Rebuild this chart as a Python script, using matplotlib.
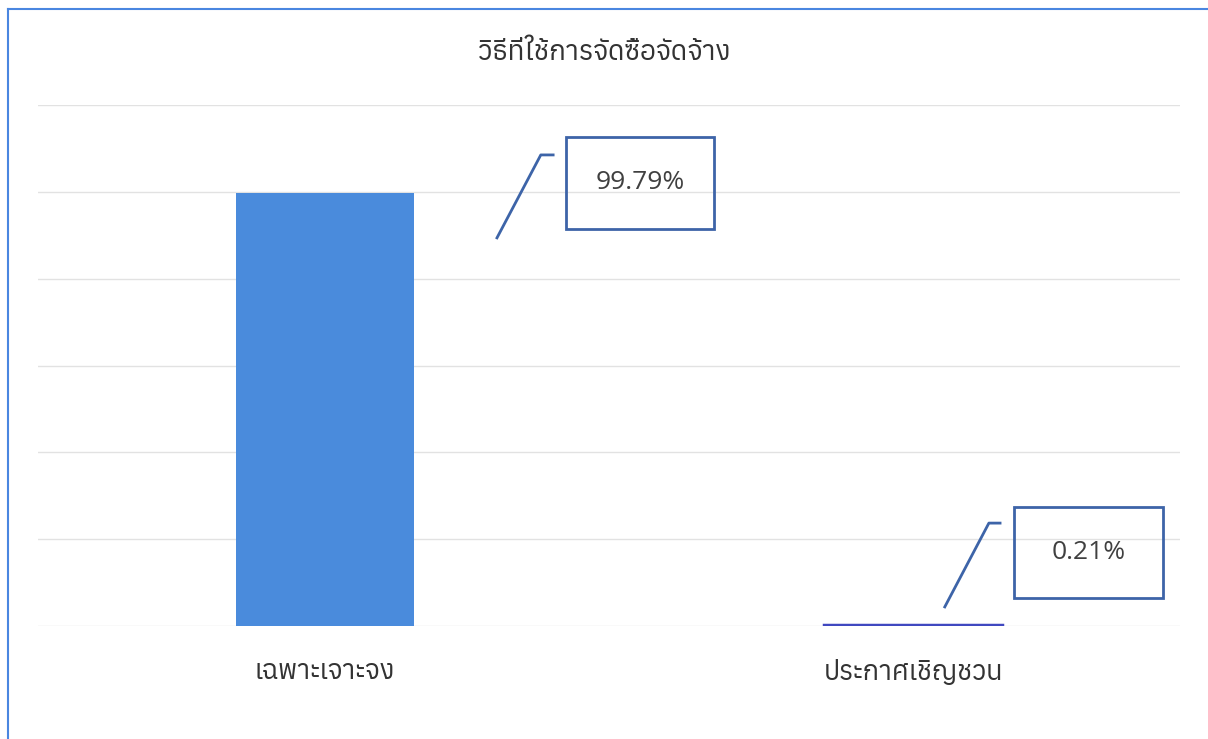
import matplotlib
matplotlib.use("Agg")
import matplotlib.pyplot as plt
import matplotlib.font_manager as fm
from matplotlib.ft2font import FT2Font
from matplotlib.patches import Rectangle
from matplotlib.lines import Line2D

# ---- data ----
title = "วิธีที่ใช้การจัดซื้อจัดจ้าง"
categories = ["เฉพาะเจาะจง", "ประกาศเชิญชวน"]
values = [99.79, 0.21]
value_labels = ["99.79%", "0.21%"]

# ---- find a font with Thai glyphs ----
thai_fonts = []
for f in fm.fontManager.ttflist:
    try:
        if 0x0E27 in FT2Font(f.fname).get_charmap():
            thai_fonts.append(f.name)
    except Exception:
        pass
thai_fonts = sorted(set(thai_fonts))
fam = thai_fonts + ["DejaVu Sans"] if thai_fonts else ["DejaVu Sans"]

fig = plt.figure(figsize=(12.08, 7.39), dpi=100)
ax = fig.add_axes([38/1208, 113/739, 1142/1208, 521/739])

bar_colors = ["#4a8bdc", "#4a8bdc"]
x = list(range(len(categories)))
bars = ax.bar(x, values, width=0.303, color=bar_colors, zorder=2)
# second bar is tiny: give it a visible outline like the reference
bars[1].set_edgecolor("#4048c0")
bars[1].set_linewidth(2.5)

ax.set_xlim(-0.488, 1.454)
ax.set_ylim(0, 120)
ax.set_yticks(range(0, 121, 20))
ax.yaxis.grid(True, color="#e2e2e2", linewidth=1, zorder=0)
ax.set_yticklabels([])
ax.tick_params(axis="y", length=0)
for s in ax.spines.values():
    s.set_visible(False)
ax.set_xticks(x)
ax.set_xticklabels(categories, family=fam, fontsize=19.5, color="#333333")
ax.tick_params(axis="x", length=0, pad=24)

# label boxes (positions in data units) and leader lines
box_pos = [(0.410, 91.5, 0.252, 21.2), (1.172, 6.45, 0.253, 20.95)]
leaders = [[(0.2925, 89.4), (0.367, 108.5), (0.388, 108.5)],
           [(1.054, 4.4), (1.129, 23.7), (1.148, 23.7)]]
for lab, (bx, by, bw, bh), ld in zip(value_labels, box_pos, leaders):
    ax.add_patch(Rectangle((bx, by), bw, bh, fill=False, edgecolor="#3d64a8",
                           linewidth=2, zorder=3, clip_on=False))
    ax.text(bx + bw/2, by + bh/2, lab, ha="center", va="center", fontsize=19,
            color="#404040", family=["Open Sans", "DejaVu Sans"], zorder=4)
    xs, ys = zip(*ld)
    ax.plot(xs, ys, color="#3d64a8", linewidth=2, zorder=3, clip_on=False)

fig.text(604/1208, 1 - 52/739, title, ha="center", va="center", fontsize=20,
         fontweight="bold", color="#333333", family=fam)

# blue frame (left and top edges)
fig.add_artist(Line2D([8/1208, 8/1208], [0, 1 - 9/739], color="#4a86e0", linewidth=1.5))
fig.add_artist(Line2D([8/1208, 1], [1 - 9/739, 1 - 9/739], color="#4a86e0", linewidth=1.5))

fig.savefig("out.png", dpi=100)
